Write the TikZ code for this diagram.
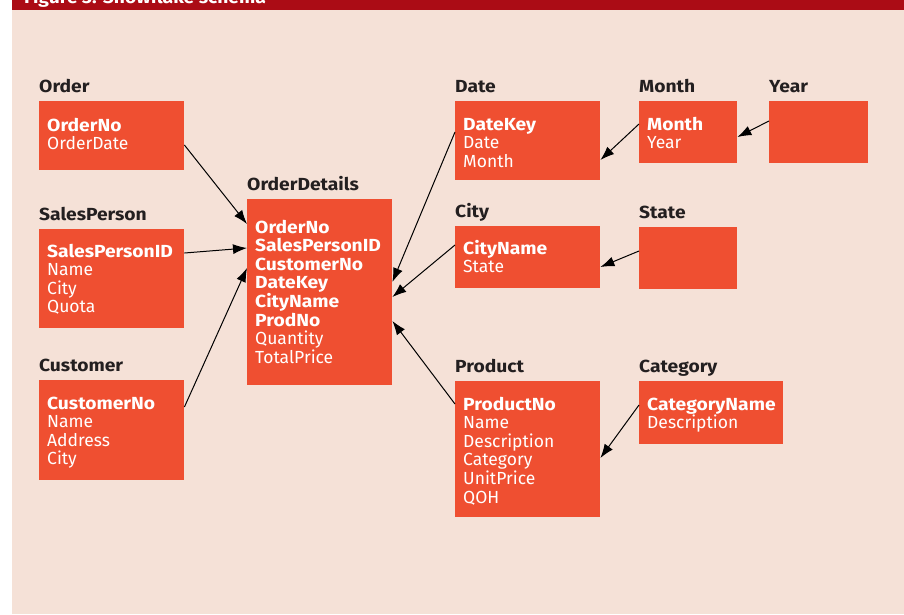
\documentclass[tikz,border=0pt]{standalone}
\usepackage{fontspec}
\setmainfont{Fira Sans}[BoldFeatures={FakeStretch=1.1}]
\usepackage{xcolor}
\usetikzlibrary{positioning,arrows.meta}

\definecolor{pagebg}{HTML}{F5E1D7}
\definecolor{barred}{HTML}{AB0C15}
\definecolor{boxred}{HTML}{EF4F31}
\definecolor{titlegray}{HTML}{231F20}

\tikzset{
  tbl/.style={fill=boxred, anchor=north west, inner sep=0pt, minimum width=145pt},
  tbltitle/.style={anchor=south west, inner sep=0pt, text depth=0pt, text=titlegray,
    font=\fontsize{17.5}{20}\selectfont\bfseries},
  % base = baseline of the last line
  fields/.style={anchor=base west, inner sep=0pt, align=left, text=white,
    font=\fontsize{17.5}{18.6}\selectfont},
  link/.style={-{Latex[length=14pt,width=10pt]}, line width=1pt, draw=black}
}

\begin{document}
\begin{tikzpicture}[x=1pt,y=-1pt]
  \useasboundingbox (0,0) rectangle (904,614);
  \fill[pagebg] (12,0) rectangle (904,614);
  \fill[barred] (12,0) rectangle (904,10);
  \node (figtitle) [anchor=base west, inner sep=0pt, text=white,
    font=\fontsize{17.5}{20}\selectfont\bfseries] at (24,3.5) {Figure 3. Snowflake schema};

  % tables
  \node (order) [tbl, minimum height=69pt] at (39,101) {};
  \node (salesperson) [tbl, minimum height=99pt] at (39,229) {};
  \node (customer) [tbl, minimum height=100pt] at (39,380) {};
  \node (orderdetails) [tbl, minimum height=186pt] at (247,199) {};
  \node (date) [tbl, minimum height=79pt] at (455,101) {};
  \node (month) [tbl, minimum width=98pt, minimum height=62pt] at (639,101) {};
  \node (year) [tbl, minimum width=99pt, minimum height=62pt] at (769,101) {};
  \node (city) [tbl, minimum height=62pt] at (455,226) {};
  \node (state) [tbl, minimum width=98pt, minimum height=62pt] at (639,227) {};
  \node (product) [tbl, minimum height=136pt] at (455,381) {};
  \node (category) [tbl, minimum width=144pt, minimum height=63pt] at (639,381) {};

  % table names
  \node (orderlbl) [tbltitle, above right=8pt and 0pt of order.north west] {Order};
  \node (salespersonlbl) [tbltitle, above right=8pt and 0pt of salesperson.north west] {SalesPerson};
  \node (customerlbl) [tbltitle, above right=8pt and 0pt of customer.north west] {Customer};
  \node (orderdetailslbl) [tbltitle, above right=8pt and 0pt of orderdetails.north west] {OrderDetails};
  \node (datelbl) [tbltitle, above right=8pt and 0pt of date.north west] {Date};
  \node (monthlbl) [tbltitle, above right=8pt and 0pt of month.north west] {Month};
  \node (yearlbl) [tbltitle, above right=8pt and 0pt of year.north west] {Year};
  \node (citylbl) [tbltitle, above right=8pt and 0pt of city.north west] {City};
  \node (statelbl) [tbltitle, above right=8pt and 0pt of state.north west] {State};
  \node (productlbl) [tbltitle, above right=8pt and 0pt of product.north west] {Product};
  \node (categorylbl) [tbltitle, above right=8pt and 0pt of category.north west] {Category};

  % columns
  \node (orderf) [fields] at ([shift={(8pt,-48.6pt)}]order.north west)
    {\textbf{OrderNo}\\OrderDate};
  \node (salespersonf) [fields] at ([shift={(8pt,-83.8pt)}]salesperson.north west)
    {\textbf{SalesPersonID}\\Name\\City\\Quota};
  \node (customerf) [fields] at ([shift={(8pt,-84.8pt)}]customer.north west)
    {\textbf{CustomerNo}\\Name\\Address\\City};
  \node (orderdetailsf) [fields] at ([shift={(8pt,-164.2pt)}]orderdetails.north west)
    {\textbf{OrderNo}\\\textbf{SalesPersonID}\\\textbf{CustomerNo}\\\textbf{DateKey}\\
     \textbf{CityName}\\\textbf{ProdNo}\\Quantity\\TotalPrice};
  \node (datef) [fields] at ([shift={(8pt,-66.2pt)}]date.north west)
    {\textbf{DateKey}\\Date\\Month};
  \node (monthf) [fields] at ([shift={(8pt,-47.6pt)}]month.north west)
    {\textbf{Month}\\Year};
  \node (cityf) [fields] at ([shift={(8pt,-46.6pt)}]city.north west)
    {\textbf{CityName}\\State};
  \node (productf) [fields] at ([shift={(8pt,-122pt)}]product.north west)
    {\textbf{ProductNo}\\Name\\Description\\Category\\UnitPrice\\QOH};
  \node (categoryf) [fields] at ([shift={(8pt,-47.6pt)}]category.north west)
    {\textbf{CategoryName}\\Description};

  % keys
  \draw[link] ([yshift=-44pt]order.north east) -- ([yshift=-25pt]orderdetails.north west);
  \draw[link] ([yshift=-24pt]salesperson.north east) -- ([yshift=-49pt]orderdetails.north west);
  \draw[link] ([yshift=-27pt]customer.north east) -- ([yshift=-69pt]orderdetails.north west);
  \draw[link] ([yshift=-31pt]date.north west) -- ([yshift=-83pt]orderdetails.north east);
  \draw[link] ([yshift=-19pt]city.north west) -- ([yshift=-98pt]orderdetails.north east);
  \draw[link] ([yshift=-23pt]product.north west) -- ([yshift=-122pt]orderdetails.north east);
  \draw[link] ([yshift=-23pt]month.north west) -- ([yshift=-59pt]date.north east);
  \draw[link] ([yshift=-20pt]year.north west) -- ([yshift=-36pt]month.north east);
  \draw[link] ([yshift=-24pt]state.north west) -- ([yshift=-41pt]city.north east);
  \draw[link] ([yshift=-24pt]category.north west) -- ([yshift=-77pt]product.north east);
\end{tikzpicture}
\end{document}
